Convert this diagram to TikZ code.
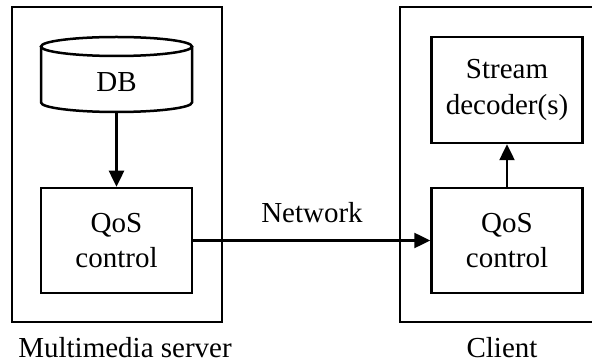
\documentclass[tikz,border=0pt]{standalone}
\usepackage{fontspec}
\setmainfont{Liberation Serif}
\usetikzlibrary{arrows.meta}
\begin{document}
\begin{tikzpicture}[x=1pt,y=-1pt,
  every node/.style={font=\fontsize{29}{35.5}\selectfont},
  frame/.style={draw,line width=2.5pt},
  block/.style={draw,line width=2.5pt,minimum width=151pt,minimum height=105pt,inner sep=0pt,align=center},
  link/.style={line width=2.5pt,-{Triangle[length=16pt,width=15pt]}}]
\useasboundingbox (0,0) rectangle (592,363);
\clip (0,0) rectangle (592,363);

% server and client enclosures
\draw[frame] (12,7) rectangle (222,322);
\draw[frame] (400,7) rectangle (620,322);

% database cylinder
\node[minimum width=151pt,minimum height=60pt,inner sep=0pt] (db) at (116.5,82) {DB};
\draw[line width=2.5pt] (116.5,46.5) ellipse [x radius=75.5pt, y radius=9.5pt];
\draw[line width=2.5pt] (41,46.5) -- (41,102.5)
  arc[start angle=180, end angle=360, x radius=75.5pt, y radius=9.5pt]
  -- (192,46.5);

% processing blocks
\node[block] (sqos) at (116.5,240.5) {QoS\\control};
\node[block] (cqos) at (507,240.5) {QoS\\control};
\node[block,minimum height=106pt] (dec) at (507,90) {Stream\\decoder(s)};

% connectors
\draw[link] (db.south) -- (sqos.north);
\draw[link] (sqos.east) -- (cqos.west);
\draw[link] (cqos.north) -- (dec.south);

% labels
\node[anchor=base] (net) at (312,223) {Network};
\node[anchor=base] (srv) at (125,358) {Multimedia server};
\node[anchor=base] (cli) at (502,358) {Client};
\end{tikzpicture}
\end{document}
